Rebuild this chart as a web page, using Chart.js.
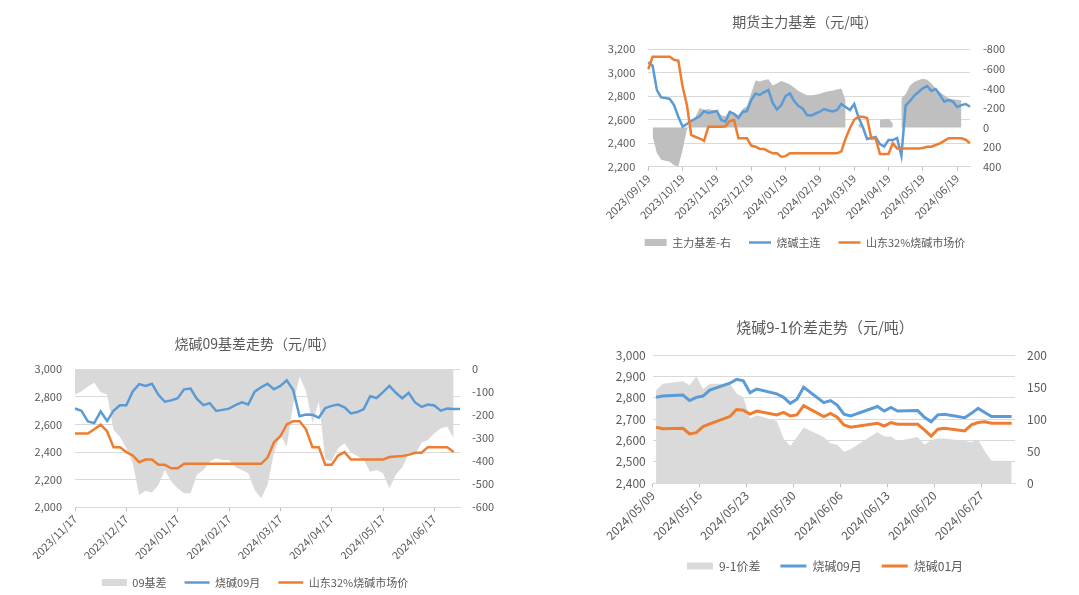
<!DOCTYPE html>
<html>
<head>
<meta charset="utf-8">
<script src="https://cdn.jsdelivr.net/npm/chart.js@4.4.1/dist/chart.umd.min.js"></script>
<style>
html,body{margin:0;padding:0;background:#fff;overflow:hidden;width:1079px;height:595px}
.box{position:absolute}
</style>
</head>
<body>
<div class="box" style="left:585px;top:0;width:440px;height:258px"><canvas id="mainChart"></canvas></div>
<div class="box" style="left:10px;top:320px;width:490px;height:278px"><canvas id="sep09Chart"></canvas></div>
<div class="box" style="left:580px;top:305px;width:490px;height:277px"><canvas id="spreadChart"></canvas></div>
<script>
// 期货主力基差
const mainDates = [
 "2023/09/19","2023/09/23","2023/09/27","2023/10/01","2023/10/05","2023/10/09","2023/10/12","2023/10/15",
 "2023/10/19","2023/10/23","2023/10/27","2023/10/31","2023/11/04","2023/11/08","2023/11/12","2023/11/15",
 "2023/11/19","2023/11/23","2023/11/27","2023/12/01","2023/12/05","2023/12/08","2023/12/12","2023/12/15",
 "2023/12/19","2023/12/23","2023/12/27","2023/12/31","2024/01/04","2024/01/08","2024/01/12","2024/01/15",
 "2024/01/19","2024/01/23","2024/01/27","2024/01/31","2024/02/04","2024/02/08","2024/02/12","2024/02/15",
 "2024/02/19","2024/02/23","2024/02/26","2024/02/29","2024/03/03","2024/03/07","2024/03/11","2024/03/15",
 "2024/03/19","2024/03/23","2024/03/27","2024/03/31","2024/04/04","2024/04/08","2024/04/12","2024/04/15",
 "2024/04/19","2024/04/23","2024/04/27","2024/05/01","2024/05/05","2024/05/08","2024/05/12","2024/05/15",
 "2024/05/19","2024/05/23","2024/05/27","2024/05/31","2024/06/04","2024/06/08","2024/06/12","2024/06/15",
 "2024/06/19","2024/06/23","2024/06/27","2024/07/01"];
const mainTicks = ["2023/09/19","2023/10/19","2023/11/19","2023/12/19","2024/01/19",
 "2024/02/19","2024/03/19","2024/04/19","2024/05/19","2024/06/19"];
const mainBasis = [
 null,90,260,330,340,350,385,395,
 230,20,-55,-110,-200,-180,-190,-180,
 -175,-125,-115,-175,-155,-125,-190,-220,
 -350,-480,-470,-485,-495,-430,-450,-475,
 -460,-440,-410,-375,-350,-330,-330,-335,
 -346,-360,-370,-380,-390,-400,-280,null,
 null,-40,-30,null,null,null,-80,-85,
 -90,-45,null,-300,-340,-430,-465,-485,
 -500,-490,-450,-400,-360,-330,-300,-290,
 -285,-280,null,null];
const mainFutures = [
 3090,3060,2853,2790,2785,2777,2725,2626,
 2541,2564,2589,2610,2632,2674,2657,2666,
 2674,2598,2583,2666,2649,2615,2666,2674,
 2768,2823,2811,2836,2853,2743,2687,2725,
 2802,2825,2760,2717,2696,2640,2636,2653,
 2668,2691,2679,2670,2683,2734,2709,2683,
 2734,2623,2538,2436,2444,2453,2393,2372,
 2427,2427,2444,2294,2721,2760,2806,2836,
 2868,2887,2845,2862,2811,2754,2768,2754,
 2709,2725,2734,2711];
const mainSpot = [
 3030,3137,3137,3137,3137,3137,3110,3103,
 2880,2725,2470,2453,2440,2420,2541,2541,
 2541,2541,2545,2590,2598,2442,2442,2442,
 2380,2370,2351,2351,2330,2314,2314,2285,
 2290,2314,2314,2314,2314,2314,2314,2314,
 2314,2314,2314,2314,2314,2330,2440,2527,
 2600,2626,2626,2615,2441,2441,2308,2308,
 2308,2400,2356,2356,2356,2356,2356,2356,
 2360,2370,2370,2385,2399,2420,2442,2442,
 2442,2442,2430,2400];

// 烧碱09基差走势
const sep09Dates = [
 "2023/11/17","2023/11/21","2023/11/25","2023/11/29","2023/12/03","2023/12/06","2023/12/10","2023/12/13",
 "2023/12/17","2023/12/21","2023/12/25","2023/12/29","2024/01/02","2024/01/05","2024/01/09","2024/01/13",
 "2024/01/17","2024/01/21","2024/01/25","2024/01/29","2024/02/02","2024/02/05","2024/02/09","2024/02/13",
 "2024/02/17","2024/02/21","2024/02/24","2024/02/28","2024/03/02","2024/03/06","2024/03/09","2024/03/13",
 "2024/03/17","2024/03/21","2024/03/25","2024/03/29","2024/04/02","2024/04/05","2024/04/09","2024/04/13",
 "2024/04/17","2024/04/21","2024/04/25","2024/04/29","2024/05/02","2024/05/06","2024/05/10","2024/05/13",
 "2024/05/17","2024/05/21","2024/05/25","2024/05/29","2024/06/02","2024/06/05","2024/06/09","2024/06/13",
 "2024/06/17","2024/06/21","2024/06/24","2024/06/28","2024/07/02"];
const sep09Ticks = ["2023/11/17","2023/12/17","2024/01/17","2024/02/17",
 "2024/03/17","2024/04/17","2024/05/17","2024/06/17"];
const sep09Basis = [
 -110,-97,-75,-58,-100,-110,-264,-293,
 -343,-409,-546,-528,-536,-503,-438,-488,
 -517,-539,-539,-459,-438,-401,-387,-394,
 -394,-426,-438,-452,-525,-561,-503,-365,
 -285,-336,-151,-32,-94,-235,-141,-391,
 -399,-343,-322,-362,-377,-394,-445,-438,
 -452,-517,-459,-426,-368,-372,-319,-307,
 -278,-257,-249,-300,null];
const sep09Futures = [
 2716,2700,2622,2610,2695,2625,2700,2740,
 2740,2840,2893,2880,2895,2815,2765,2775,
 2790,2855,2860,2785,2740,2755,2698,2706,
 2715,2740,2760,2745,2838,2870,2895,2855,
 2880,2920,2850,2660,2672,2670,2650,2720,
 2735,2745,2725,2680,2690,2712,2805,2792,
 2835,2880,2830,2790,2830,2760,2728,2745,
 2738,2700,2715,2712,2712];
const sep09Spot = [
 2534,2534,2534,2565,2599,2551,2436,2436,
 2400,2376,2327,2346,2346,2308,2308,2283,
 2283,2315,2315,2315,2315,2315,2315,2315,
 2315,2315,2315,2315,2315,2315,2360,2470,
 2515,2600,2624,2624,2565,2436,2436,2308,
 2308,2375,2400,2346,2346,2346,2346,2346,
 2346,2364,2368,2372,2380,2395,2395,2436,
 2436,2436,2436,2400,null];

// 烧碱9-1价差走势 (calendar days, null = no trading)
const spreadDates = [
 "2024/05/09","2024/05/10","2024/05/11","2024/05/12","2024/05/13","2024/05/14","2024/05/15","2024/05/16",
 "2024/05/17","2024/05/18","2024/05/19","2024/05/20","2024/05/21","2024/05/22","2024/05/23","2024/05/24",
 "2024/05/25","2024/05/26","2024/05/27","2024/05/28","2024/05/29","2024/05/30","2024/05/31","2024/06/01",
 "2024/06/02","2024/06/03","2024/06/04","2024/06/05","2024/06/06","2024/06/07","2024/06/08","2024/06/09",
 "2024/06/10","2024/06/11","2024/06/12","2024/06/13","2024/06/14","2024/06/15","2024/06/16","2024/06/17",
 "2024/06/18","2024/06/19","2024/06/20","2024/06/21","2024/06/22","2024/06/23","2024/06/24","2024/06/25",
 "2024/06/26","2024/06/27","2024/06/28","2024/06/29","2024/06/30","2024/07/01"];
const spreadTicks = ["2024/05/09","2024/05/16","2024/05/23","2024/05/30",
 "2024/06/06","2024/06/13","2024/06/20","2024/06/27"];
const spread91 = [
 145,155,null,null,159,153,167,147,
 155,null,null,155,140,134,101,106,
 null,null,97,70,58,72,87,null,
 null,72,62,60,49,53,null,null,
 null,80,73,73,66,null,null,72,
 60,67,70,70,null,null,66,64,
 68,50,35,null,null,35];
const fut09 = [
 2802,2808,null,null,2813,2787,2802,2808,
 2836,null,null,2868,2886,2879,2824,2841,
 null,null,2818,2802,2774,2793,2849,null,
 null,2777,2787,2766,2723,2715,null,null,
 null,2759,2738,2755,2738,null,null,2740,
 2709,2688,2720,2723,null,null,2707,2727,
 2751,2731,2712,null,null,2712];
const fut01 = [
 2662,2655,null,null,2657,2631,2637,2665,
 2678,null,null,2712,2745,2742,2724,2738,
 null,null,2720,2732,2715,2720,2763,null,
 null,2712,2727,2709,2673,2662,null,null,
 null,2681,2668,2684,2676,null,null,2676,
 2650,2621,2653,2657,null,null,2645,2673,
 2684,2688,2681,null,null,2681];

const BLUE = '#5b9bd5';
const ORANGE = '#ed7d31';
const GRID = '#d9d9d9';
const CLEAR = 'rgba(0,0,0,0)';

Chart.defaults.font.family = '"Noto Sans CJK SC","Noto Sans",sans-serif';
Chart.defaults.color = '#595959';

function markLabel(cats, marks) {
  return (value, index) => marks.includes(cats[index]) ? cats[index] : '';
}
function markColor(cats, marks) {
  return ctx => marks.includes(cats[ctx.index]) ? '#bfbfbf' : CLEAR;
}
function fixWidth(w) {
  return s => { s.width = w; };
}
function fixBottom(b) {
  return s => { s.height = s.chart.height - s.chart.legend.height - b; };
}

function lineSet(label, data, color, width, order, gaps) {
  return { label, data, yAxisID: 'y', borderColor: color, borderWidth: width, fill: false,
    tension: 0, spanGaps: gaps, pointRadius: 0, pointHoverRadius: 0, pointStyle: 'line',
    pointBorderColor: color, pointBorderWidth: width, pointBackgroundColor: color, order };
}
function areaSet(label, data, color, gaps) {
  return { label, data, yAxisID: 'y1', fill: 'origin', backgroundColor: color, borderColor: CLEAR,
    borderWidth: 0, tension: 0, spanGaps: gaps, pointRadius: 0, pointHoverRadius: 0, pointStyle: 'rect',
    pointBackgroundColor: color, pointBorderColor: CLEAR, pointBorderWidth: 0, order: 3 };
}

function build(id, p) {
  new Chart(document.getElementById(id), {
    type: 'line',
    data: { labels: p.cats, datasets: p.datasets },
    options: {
      responsive: true,
      maintainAspectRatio: false,
      animation: false,
      events: [],
      layout: { padding: 0 },
      plugins: {
        title: { display: true, text: p.title, color: '#595959',
          font: { size: p.titleSize, weight: 'normal' }, padding: p.titlePad },
        legend: { position: 'bottom',
          labels: { usePointStyle: true, pointStyleWidth: p.keyW, boxHeight: 7, padding: p.keyGap,
            color: '#595959', font: { size: p.font },
            sort: (a, b) => a.datasetIndex - b.datasetIndex } },
        tooltip: { enabled: false }
      },
      scales: {
        x: {
          type: 'category',
          offset: p.slots,
          border: { color: GRID },
          grid: { offset: p.slots, drawOnChartArea: false, tickLength: 4, color: markColor(p.cats, p.marks) },
          ticks: { autoSkip: false, minRotation: 45, maxRotation: 45, padding: 1,
            labelOffset: p.labelShift, font: { size: p.font }, callback: markLabel(p.cats, p.marks) },
          afterFit: fixBottom(p.bottom)
        },
        y: {
          position: 'left', min: p.left[0], max: p.left[1],
          border: { display: false },
          grid: { color: GRID, drawTicks: false },
          ticks: { stepSize: p.left[2], padding: p.leftPad, font: { size: p.font } },
          afterFit: fixWidth(p.leftW)
        },
        y1: {
          position: 'right', min: p.right[0], max: p.right[1], reverse: p.reverse,
          border: { display: false },
          grid: { drawOnChartArea: false, drawTicks: false },
          ticks: { stepSize: p.right[2], padding: p.rightPad, font: { size: p.font } },
          afterFit: fixWidth(p.rightW)
        }
      }
    }
  });
}

build('mainChart', {
  title: '期货主力基差（元/吨）', titleSize: 14, titlePad: { top: 13.6, bottom: 18.9 },
  cats: mainDates, marks: mainTicks, slots: false, labelShift: 0,
  font: 11, keyW: 22, keyGap: 18,
  left: [2200, 3200, 200], leftW: 63.3, leftPad: 13,
  right: [-800, 400, 200], rightW: 55, rightPad: 13, reverse: true,
  bottom: 166.7,
  datasets: [
    areaSet('主力基差-右', mainBasis, '#bfbfbf', false),
    lineSet('烧碱主连', mainFutures, BLUE, 2.5, 2, false),
    lineSet('山东32%烧碱市场价', mainSpot, ORANGE, 2.5, 1, false)
  ]
});

build('sep09Chart', {
  title: '烧碱09基差走势（元/吨）', titleSize: 14, titlePad: { top: 14.9, bottom: 17.6 },
  cats: sep09Dates, marks: sep09Ticks, slots: false, labelShift: 0,
  font: 11, keyW: 25, keyGap: 18,
  left: [2000, 3000, 200], leftW: 65, leftPad: 13,
  right: [-600, 0, 100], rightW: 40, rightPad: 12, reverse: false,
  bottom: 187.3,
  datasets: [
    areaSet('09基差', sep09Basis, '#d9d9d9', false),
    lineSet('烧碱09月', sep09Futures, BLUE, 2.5, 2, false),
    lineSet('山东32%烧碱市场价', sep09Spot, ORANGE, 2.5, 1, false)
  ]
});

build('spreadChart', {
  title: '烧碱9-1价差走势（元/吨）', titleSize: 15, titlePad: { top: 13.5, bottom: 18.5 },
  cats: spreadDates, marks: spreadTicks, slots: true, labelShift: -3.35,
  font: 12, keyW: 26, keyGap: 20,
  left: [2400, 3000, 100], leftW: 72.7, leftPad: 7,
  right: [0, 200, 50], rightW: 55, rightPad: 12, reverse: false,
  bottom: 178.3,
  datasets: [
    areaSet('9-1价差', spread91, '#dadada', true),
    lineSet('烧碱09月', fut09, BLUE, 3, 2, true),
    lineSet('烧碱01月', fut01, ORANGE, 3, 1, true)
  ]
});
</script>
</body>
</html>
